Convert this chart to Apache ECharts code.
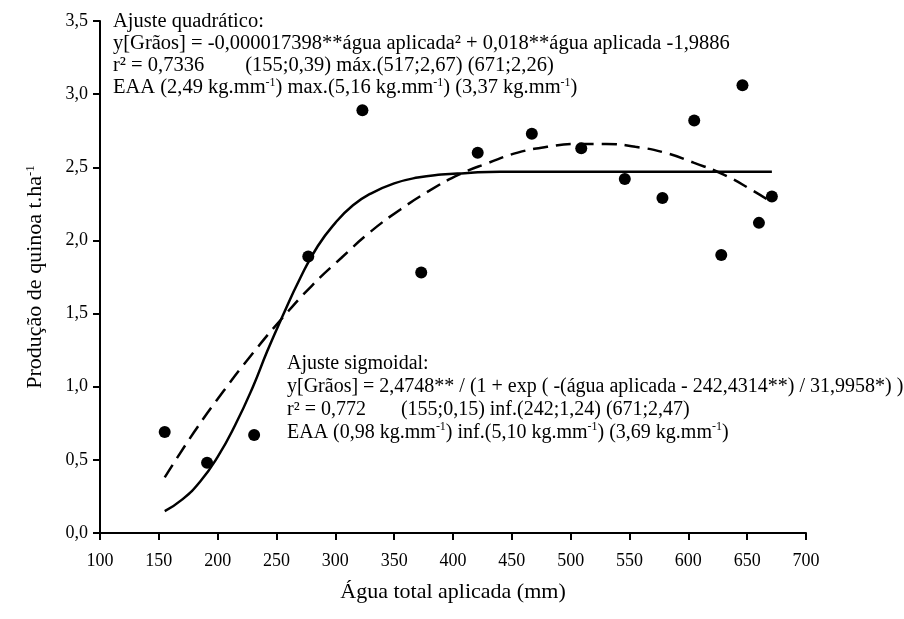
<!DOCTYPE html>
<html>
<head>
<meta charset="utf-8">
<script src="https://cdn.jsdelivr.net/npm/echarts@6/dist/echarts.min.js"></script>
<style>
  html, body { margin: 0; padding: 0; background: #fff; }
  #chart { width: 904px; height: 619px; }
</style>
</head>
<body>
<div id="chart"></div>
<script>
// observed points
const aguaAplicada = [155, 191, 231, 277, 323, 373, 421, 467, 509, 546, 578, 605, 628, 646, 660, 671];
const producao = [0.69, 0.48, 0.67, 1.89, 2.89, 1.78, 2.60, 2.73, 2.63, 2.42, 2.29, 2.82, 1.90, 3.06, 2.12, 2.30];

// sigmoid fit (solid line)
const sigX = [155, 170, 185, 200, 215, 230, 242, 255, 270, 285, 300, 315, 330, 350, 370, 390, 410, 440, 480, 530, 600, 671];
const sigY = [0.15, 0.23, 0.35, 0.52, 0.74, 1.00, 1.24, 1.48, 1.74, 1.96, 2.12, 2.24, 2.32, 2.39, 2.43, 2.45, 2.46, 2.47, 2.47, 2.47, 2.47, 2.47];

// quadratic fit (dashed line)
const quadX = [155, 180, 205, 230, 255, 280, 305, 330, 355, 380, 405, 430, 455, 480, 505, 530, 555, 580, 605, 630, 655, 671];
const quadY = [0.38, 0.69, 0.97, 1.23, 1.47, 1.69, 1.88, 2.06, 2.21, 2.34, 2.45, 2.53, 2.60, 2.64, 2.66, 2.66, 2.64, 2.60, 2.53, 2.45, 2.34, 2.26];

const quadText = [
  'Ajuste quadrático:',
  'y[Grãos] = -0,000017398**água aplicada² + 0,018**água aplicada -1,9886',
  'r² = 0,7336        (155;0,39) máx.(517;2,67) (671;2,26)',
  'EAA (2,49 kg.mm{sup|-1}) max.(5,16 kg.mm{sup|-1}) (3,37 kg.mm{sup|-1})'
];
const sigText = [
  'Ajuste sigmoidal:',
  'y[Grãos] = 2,4748** / (1 + exp ( -(água aplicada - 242,4314**) / 31,9958*) )',
  'r² = 0,772       (155;0,15) inf.(242;1,24) (671;2,47)',
  'EAA (0,98 kg.mm{sup|-1}) inf.(5,10 kg.mm{sup|-1}) (3,69 kg.mm{sup|-1})'
];

const serif = '"Liberation Serif", "Times New Roman", serif';
const pair = (xs, ys) => xs.map((x, i) => [x, ys[i]]);
const comma = v => v.toFixed(1).replace('.', ',');

const chart = echarts.init(document.getElementById('chart'));

const textBlock = (lines, left, top, size, lh) => ({
  type: 'text',
  left: left,
  top: top,
  z: 10,
  style: {
    text: lines.join('\n'),
    fontFamily: serif,
    fontSize: size,
    lineHeight: lh,
    fill: '#000',
    rich: {
      sup: { fontSize: 12, fontFamily: serif, verticalAlign: 'top', lineHeight: lh }
    }
  }
});

chart.setOption({
  animation: false,
  backgroundColor: '#fff',
  grid: { left: 100, right: 98, top: 21, bottom: 86 },
  xAxis: {
    type: 'value',
    min: 100, max: 700, interval: 50,
    name: 'Água total aplicada (mm)',
    nameLocation: 'middle',
    nameGap: 48,
    nameTextStyle: { fontFamily: serif, fontSize: 22, color: '#000' },
    splitLine: { show: false },
    axisLine: { lineStyle: { color: '#000', width: 2 } },
    axisTick: { length: 7, lineStyle: { color: '#000', width: 2 } },
    axisLabel: { margin: 19, fontFamily: serif, fontSize: 18, color: '#000' }
  },
  yAxis: {
    type: 'value',
    min: 0, max: 3.5, interval: 0.5,
    name: 'Produção de quinoa t.ha{sup|-1}',
    nameLocation: 'middle',
    nameRotate: 90,
    nameGap: 54,
    nameTextStyle: {
      fontFamily: serif, fontSize: 22, color: '#000',
      rich: { sup: { fontSize: 13, fontFamily: serif, verticalAlign: 'top', color: '#000' } }
    },
    splitLine: { show: false },
    axisLine: { show: true, lineStyle: { color: '#000', width: 2 } },
    axisTick: { show: true, length: 7, lineStyle: { color: '#000', width: 2 } },
    axisLabel: { margin: 12, fontFamily: serif, fontSize: 18, color: '#000', formatter: comma }
  },
  graphic: [
    textBlock(quadText, 113, 11, 20.5, 22),
    textBlock(sigText, 287, 352, 20, 23)
  ],
  series: [
    {
      type: 'line',
      data: pair(sigX, sigY),
      smooth: true,
      showSymbol: false,
      lineStyle: { color: '#000', width: 2.5 }
    },
    {
      type: 'line',
      data: pair(quadX, quadY),
      smooth: true,
      showSymbol: false,
      lineStyle: { color: '#000', width: 2.5, type: [15, 8] }
    },
    {
      type: 'scatter',
      data: pair(aguaAplicada, producao),
      symbol: 'circle',
      symbolSize: 12,
      itemStyle: { color: '#000', opacity: 1 },
      z: 5
    }
  ]
});
</script>
</body>
</html>
